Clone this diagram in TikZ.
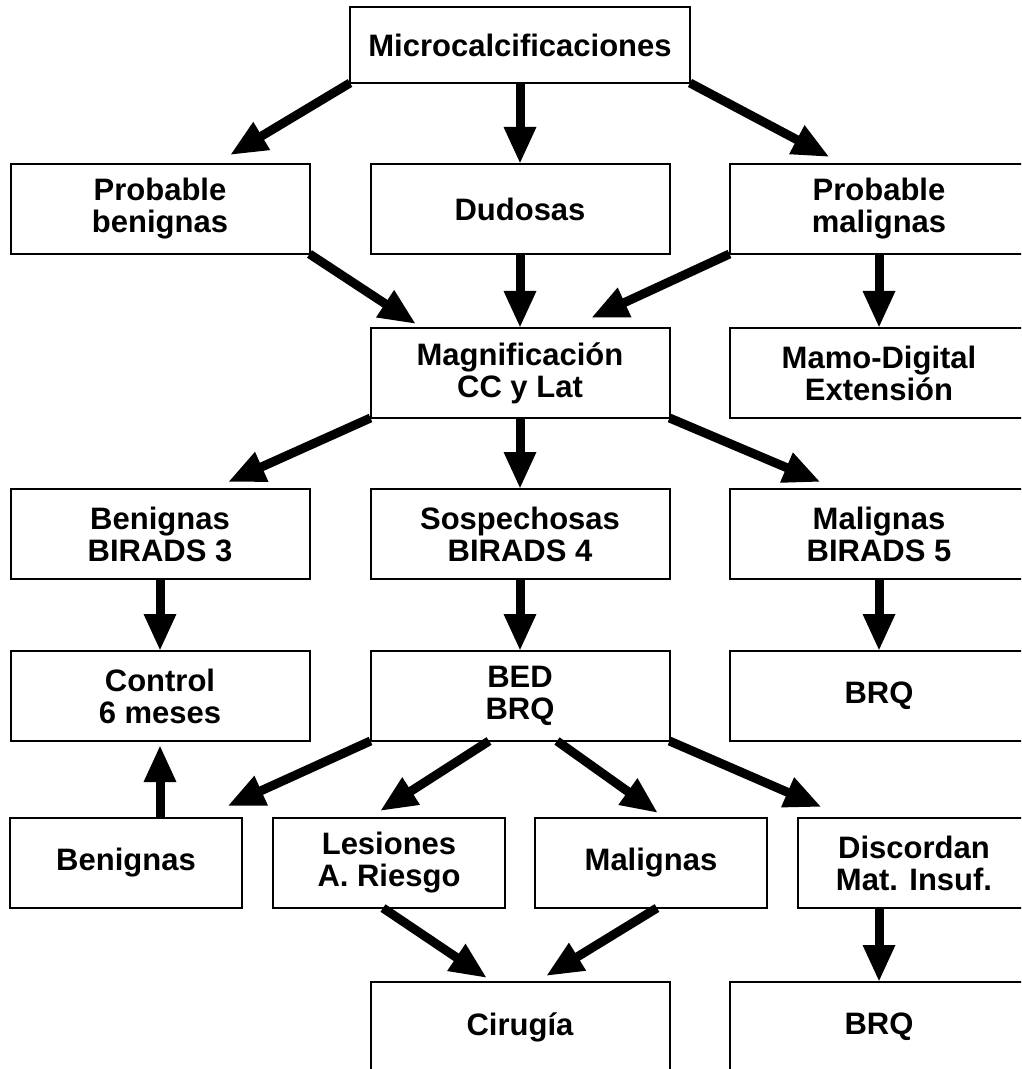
\documentclass[tikz,border=0pt]{standalone}
\usepackage{fontspec}
\setmainfont{Liberation Sans}
\usetikzlibrary{arrows.meta,positioning}

\begin{document}
\begin{tikzpicture}[x=0.5pt,y=-0.5pt,
  caja/.style={draw,line width=1pt,minimum width=149.5pt,minimum height=45pt,
    align=center,inner sep=0pt,outer sep=0pt,font=\fontsize{15.5}{16}\selectfont\bfseries},
  chica/.style={caja,minimum width=116pt},
  ancha/.style={caja,minimum width=170pt},
  flecha/.style={-{Triangle[length=18.5pt,width=15pt]},line width=4.5pt}]
  \useasboundingbox (0,0) rectangle (1021,1069);
  \clip (0,0) rectangle (1021,1069);
  % fila 1 y 2
  \node[caja,minimum width=170pt,minimum height=38pt] (micro) at (520,45) {Microcalcificaciones};
  \node[caja] (dud) [below=40.5pt of micro] {Dudosas};
  \node[caja] (pb) [left=30.5pt of dud] {Probable\\benignas};
  \node[caja] (pm) [right=30pt of dud] {Probable\\malignas};
  % fila 3
  \node[caja] (mag) [below=37pt of dud] {Magnificación\\CC y Lat};
  \node[caja] (mamo) [right=30pt of mag] {Mamo-Digital\\Extensión};
  % fila 4
  \node[caja] (sos) [below=35.5pt of mag] {Sospechosas\\BIRADS 4};
  \node[caja] (ben3) [left=30.5pt of sos] {Benignas\\BIRADS 3};
  \node[caja] (mal5) [right=30pt of sos] {Malignas\\BIRADS 5};
  % fila 5
  \node[caja] (bed) [below=36pt of sos] {BED\\BRQ};
  \node[caja] (ctrl) [left=30.5pt of bed] {Control\\6 meses};
  \node[caja] (brq1) [right=30pt of bed] {BRQ};
  % fila 6
  \node[chica] (les) [below=38.5pt of bed, xshift=-65.5pt] {Lesiones\\A. Riesgo};
  \node[chica] (ben) [left=15.5pt of les] {Benignas};
  \node[chica] (mal) [right=15pt of les] {Malignas};
  \node[chica] (disc) [right=15.5pt of mal] {Discordan\\Mat. Insuf.};
  % fila 7
  \node[caja] (cir) [below=37pt of les, xshift=65.5pt] {Cirugía};
  \node[caja] (brq2) [right=30pt of cir] {BRQ};

  \path[flecha]
    (micro.south west) edge ([xshift=35pt,yshift=4.5pt]pb.north)
    (micro.south) edge (dud.north)
    (micro.south east) edge ([xshift=-24.75pt,yshift=3.5pt]pm.north)
    (pb.south east) edge ([xshift=-52pt,yshift=2pt]mag.north)
    (dud.south) edge (mag.north)
    (pm.south west) edge ([xshift=35.5pt,yshift=5pt]mag.north)
    (pm.south) edge (mamo.north)
    (mag.south west) edge ([xshift=34pt,yshift=3.5pt]ben3.north)
    (mag.south) edge (sos.north)
    (mag.south east) edge ([xshift=-29.25pt,yshift=3.5pt]mal5.north)
    (ben3.south) edge (ctrl.north)
    (sos.south) edge (bed.north)
    (mal5.south) edge (brq1.north)
    (bed.south west) edge ([xshift=50.75pt,yshift=6pt]ben.north)
    ([xshift=-15.5pt]bed.south) edge ([xshift=-4.5pt,yshift=3.5pt]les.north)
    ([xshift=18.5pt]bed.south) edge ([xshift=3.5pt,yshift=2.5pt]mal.north)
    (bed.south east) edge ([xshift=-46.25pt,yshift=5.5pt]disc.north)
    (ben.north -| ctrl.south) edge ([yshift=-2pt]ctrl.south)
    ([xshift=-3pt]les.south) edge ([xshift=-16.5pt,yshift=2pt]cir.north)
    ([xshift=3pt]mal.south) edge ([xshift=13pt,yshift=3pt]cir.north)
    (disc.south -| brq2.north) edge (brq2.north);
\end{tikzpicture}
\end{document}
